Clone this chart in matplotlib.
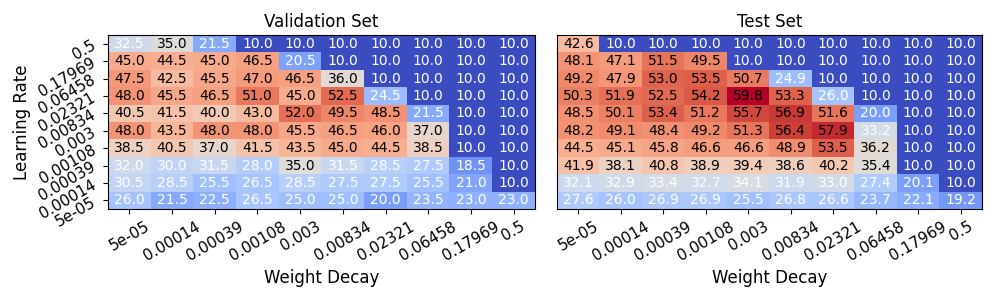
import matplotlib
matplotlib.use("Agg")
import matplotlib.pyplot as plt
import numpy as np

lr_labels = ["0.5", "0.17969", "0.06458", "0.02321", "0.00834", "0.003",
             "0.00108", "0.00039", "0.00014", "5e-05"]
wd_labels = ["5e-05", "0.00014", "0.00039", "0.00108", "0.003", "0.00834",
             "0.02321", "0.06458", "0.17969", "0.5"]

val = [
    [32.5, 35.0, 21.5, 10.0, 10.0, 10.0, 10.0, 10.0, 10.0, 10.0],
    [45.0, 44.5, 45.0, 46.5, 20.5, 10.0, 10.0, 10.0, 10.0, 10.0],
    [47.5, 42.5, 45.5, 47.0, 46.5, 36.0, 10.0, 10.0, 10.0, 10.0],
    [48.0, 45.5, 46.5, 51.0, 45.0, 52.5, 24.5, 10.0, 10.0, 10.0],
    [40.5, 41.5, 40.0, 43.0, 52.0, 49.5, 48.5, 21.5, 10.0, 10.0],
    [48.0, 43.5, 48.0, 48.0, 45.5, 46.5, 46.0, 37.0, 10.0, 10.0],
    [38.5, 40.5, 37.0, 41.5, 43.5, 45.0, 44.5, 38.5, 10.0, 10.0],
    [32.0, 30.0, 31.5, 28.0, 35.0, 31.5, 28.5, 27.5, 18.5, 10.0],
    [30.5, 28.5, 25.5, 26.5, 28.5, 27.5, 27.5, 25.5, 21.0, 10.0],
    [26.0, 21.5, 22.5, 26.5, 25.0, 25.0, 20.0, 23.5, 23.0, 23.0],
]
test = [
    [42.6, 10.0, 10.0, 10.0, 10.0, 10.0, 10.0, 10.0, 10.0, 10.0],
    [48.1, 47.1, 51.5, 49.5, 10.0, 10.0, 10.0, 10.0, 10.0, 10.0],
    [49.2, 47.9, 53.0, 53.5, 50.7, 24.9, 10.0, 10.0, 10.0, 10.0],
    [50.3, 51.9, 52.5, 54.2, 59.8, 53.3, 26.0, 10.0, 10.0, 10.0],
    [48.5, 50.1, 53.4, 51.2, 55.7, 56.9, 51.6, 20.0, 10.0, 10.0],
    [48.2, 49.1, 48.4, 49.2, 51.3, 56.4, 57.9, 33.2, 10.0, 10.0],
    [44.5, 45.1, 45.8, 46.6, 46.6, 48.9, 53.5, 36.2, 10.0, 10.0],
    [41.9, 38.1, 40.8, 38.9, 39.4, 38.6, 40.2, 35.4, 10.0, 10.0],
    [32.1, 32.9, 33.4, 32.7, 34.1, 31.9, 33.0, 27.4, 20.1, 10.0],
    [27.6, 26.0, 26.9, 26.9, 25.5, 26.8, 26.6, 23.7, 22.1, 19.2],
]

val = np.array(val)
test = np.array(test)
vmin = min(val.min(), test.min())
vmax = max(val.max(), test.max())

fig = plt.figure(figsize=(10, 3), dpi=100)
ax1 = fig.add_axes([0.108, 0.303, 0.427, 0.580])
ax2 = fig.add_axes([0.557, 0.303, 0.425, 0.580])

for ax, data, title in [(ax1, val, "Validation Set"), (ax2, test, "Test Set")]:
    im = ax.imshow(data, cmap="coolwarm", vmin=vmin, vmax=vmax, aspect="auto")
    norm = im.norm
    for i in range(data.shape[0]):
        for j in range(data.shape[1]):
            v = data[i, j]
            c = "black" if norm(v) > 0.5 else "white"
            ax.text(j, i, f"{v:.1f}", ha="center", va="center", color=c, fontsize=10)
    ax.set_title(title, fontsize=12)
    ax.set_xticks(range(len(wd_labels)))
    ax.set_xticklabels(wd_labels, rotation=30, ha="center", fontsize=11)
    ax.set_xlabel("Weight Decay", fontsize=12)
    ax.set_yticks(range(len(lr_labels)))

ax1.set_yticklabels(lr_labels, rotation=30, ha="right", fontsize=11)
ax1.set_ylabel("Learning Rate", fontsize=12)
ax2.set_yticklabels([])
ax2.tick_params(axis="y", length=0)

fig.savefig("out.png", dpi=100)
